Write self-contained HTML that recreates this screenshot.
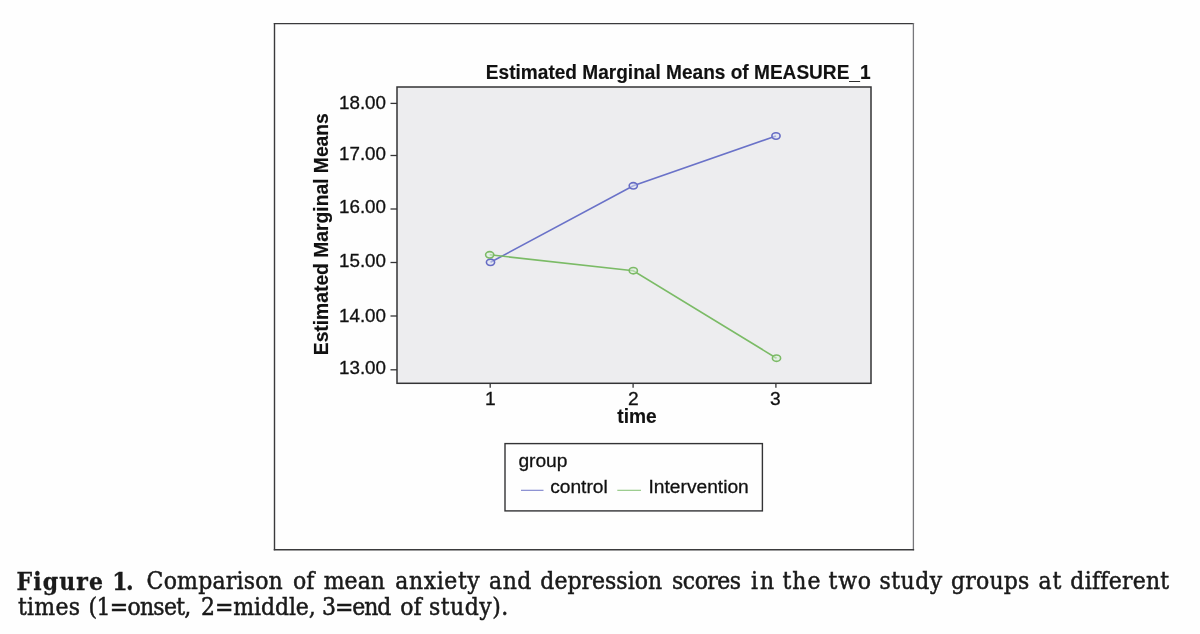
<!DOCTYPE html>
<html lang="en">
<head>
<meta charset="utf-8">
<title>Figure 1</title>
<style>
html,body{margin:0;padding:0;background:#fefefe;}
body{width:1200px;height:634px;position:relative;overflow:hidden;font-family:"Liberation Sans",sans-serif;}
#chart{position:absolute;left:0;top:0;width:1200px;height:634px;}
#chart text{font-family:"Liberation Sans",sans-serif;fill:#111;stroke:#111;stroke-width:0.3px;}
#chart .r{font-size:18.8px;}
#chart .l{font-size:19.2px;}
#chart .b{font-size:19.2px;font-weight:bold;stroke-width:0.15px;}
#caption{margin:0;font-family:"DejaVu Serif","Liberation Serif",serif;font-size:22px;color:#1a1a1a;}
#caption .w{position:absolute;white-space:nowrap;line-height:40px;height:40px;transform:scaleY(1.1);transform-origin:0 27.6px;-webkit-text-stroke:0.45px #161616;}
#caption .b{font-weight:bold;-webkit-text-stroke:0.3px #161616;}
</style>
</head>
<body>
<svg id="chart" width="1200" height="634" viewBox="0 0 1200 634">
  <g fill="none" stroke-linecap="square">
    <line x1="274.5" y1="23.6" x2="913.4" y2="23.6" stroke="#3a3a3c" stroke-width="1.4"/>
    <line x1="274.5" y1="23.6" x2="274.5" y2="549.6" stroke="#3a3a3c" stroke-width="1.4"/>
    <line x1="913.4" y1="23.6" x2="913.4" y2="549.6" stroke="#77777b" stroke-width="1.3"/>
    <line x1="274.5" y1="549.7" x2="913.4" y2="549.7" stroke="#3a3a3c" stroke-width="1.5"/>
  </g>
  <rect x="397" y="87" width="474" height="296.3" fill="#ededef" stroke="#333335" stroke-width="1.5"/>
  <text class="b" transform="translate(870.6 78.5) scale(0.994 1.03)" text-anchor="end">Estimated Marginal Means of MEASURE_1</text>
  <g stroke="#333335" stroke-width="1.3">
    <line x1="390.5" y1="103.4" x2="397" y2="103.4"/>
    <line x1="390.5" y1="155.5" x2="397" y2="155.5"/>
    <line x1="390.5" y1="209" x2="397" y2="209"/>
    <line x1="390.5" y1="262.5" x2="397" y2="262.5"/>
    <line x1="390.5" y1="316" x2="397" y2="316"/>
    <line x1="390.5" y1="369.8" x2="397" y2="369.8"/>
    <line x1="490.2" y1="383" x2="490.2" y2="387.8"/>
    <line x1="633.1" y1="383" x2="633.1" y2="387.8"/>
    <line x1="775.9" y1="383" x2="775.9" y2="387.8"/>
  </g>
  <g class="r" text-anchor="end">
    <text x="386" y="108.8">18.00</text>
    <text x="386" y="160.1">17.00</text>
    <text x="386" y="213.4">16.00</text>
    <text x="386" y="267.1">15.00</text>
    <text x="386" y="321.6">14.00</text>
    <text x="386" y="374.1">13.00</text>
  </g>
  <g class="l" text-anchor="middle">
    <text x="490.3" y="405.1">1</text>
    <text x="633.4" y="405.1">2</text>
    <text x="775.3" y="405.1">3</text>
  </g>
  <text class="b" transform="translate(637 422.8) scale(1 1.03)" text-anchor="middle">time</text>
  <text class="b" transform="translate(328 234.2) rotate(-90) scale(1.004 1.05)" text-anchor="middle">Estimated Marginal Means</text>
  <polyline points="490.5,262.3 633.3,185.8 776,136" fill="none" stroke="#6a72c8" stroke-width="1.6"/>
  <polyline points="489.7,254.8 633.3,270.7 776.5,358.2" fill="none" stroke="#7bbb66" stroke-width="1.6"/>
  <g fill="#dfe4f4" fill-opacity="0.55" stroke="#666cc4" stroke-width="1.6">
    <ellipse cx="490.5" cy="262.3" rx="4.1" ry="3.2"/>
    <ellipse cx="633.3" cy="185.8" rx="4.1" ry="3.2"/>
    <ellipse cx="776" cy="136" rx="4.1" ry="3.2"/>
  </g>
  <g fill="#dcf0dc" fill-opacity="0.55" stroke="#7cba66" stroke-width="1.6">
    <ellipse cx="489.7" cy="254.8" rx="4.1" ry="3.2"/>
    <ellipse cx="633.3" cy="270.7" rx="4.1" ry="3.2"/>
    <ellipse cx="776.5" cy="358.2" rx="4.1" ry="3.2"/>
  </g>
  <rect x="505" y="443.6" width="257.4" height="67.3" fill="#fefefe" stroke="#333335" stroke-width="1.4"/>
  <text class="l" x="518.4" y="467">group</text>
  <line x1="521" y1="490.3" x2="543.5" y2="490.3" stroke="#7a80cc" stroke-width="1.1"/>
  <text class="l" x="550.2" y="493.3">control</text>
  <line x1="617.3" y1="490.3" x2="641" y2="490.3" stroke="#8cc47c" stroke-width="1.1"/>
  <text class="l" x="648.5" y="493.3">Intervention</text>
</svg>
<p id="caption"><span class="w b" style="left:16.60px;top:562.00px;letter-spacing:1.080px">Figure</span> <span class="w b" style="left:112.22px;top:562.00px;letter-spacing:-1.440px">1.</span> <span class="w" style="left:146.60px;top:562.00px;letter-spacing:0.200px">Comparison</span> <span class="w" style="left:293.12px;top:562.00px;letter-spacing:-0.180px">of</span> <span class="w" style="left:323.75px;top:562.00px;letter-spacing:-0.000px">mean</span> <span class="w" style="left:395.35px;top:562.00px;letter-spacing:0.570px">anxiety</span> <span class="w" style="left:489.10px;top:562.00px;letter-spacing:0.450px">and</span> <span class="w" style="left:540.35px;top:562.00px;letter-spacing:0.000px">depression</span> <span class="w" style="left:672.10px;top:562.00px;letter-spacing:-0.540px">scores</span> <span class="w" style="left:751.02px;top:562.00px;letter-spacing:1.980px">in</span> <span class="w" style="left:782.54px;top:562.00px;letter-spacing:0.990px">the</span> <span class="w" style="left:828.58px;top:562.00px;letter-spacing:0.810px">two</span> <span class="w" style="left:879.58px;top:562.00px;letter-spacing:0.450px">study</span> <span class="w" style="left:951.10px;top:562.00px;letter-spacing:0.180px">groups</span> <span class="w" style="left:1038.60px;top:562.00px;letter-spacing:0.900px">at</span> <span class="w" style="left:1070.35px;top:562.00px;letter-spacing:0.225px">different</span>
<span class="w" style="left:18.00px;top:588.40px;letter-spacing:0.225px">times</span> <span class="w" style="left:88.62px;top:588.40px;letter-spacing:-0.742px">(1=onset,</span> <span class="w" style="left:201.10px;top:588.40px;letter-spacing:-0.113px">2=middle,</span> <span class="w" style="left:322.10px;top:588.40px;letter-spacing:-1.125px">3=end</span> <span class="w" style="left:400.35px;top:588.40px;letter-spacing:0.000px">of</span> <span class="w" style="left:429.10px;top:588.40px;letter-spacing:0.450px">study).</span></p>
</body>
</html>
